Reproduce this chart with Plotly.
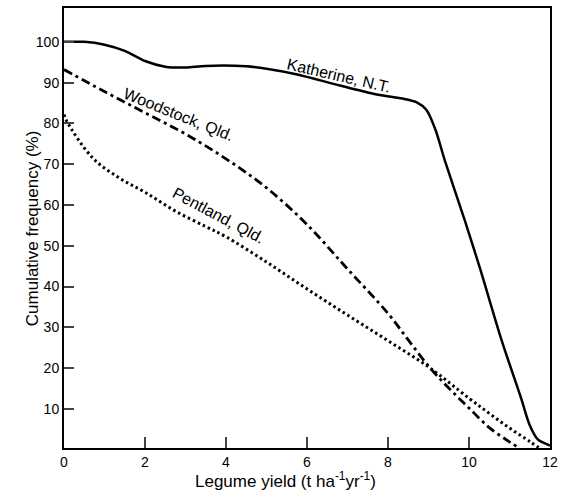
import plotly.graph_objects as go

# Cumulative frequency (%) of legume yield (t/ha/yr) at three sites
katherine_x = [0, 0.5, 1.0, 1.5, 2.0, 2.5, 3.0, 3.5, 4.5, 5.0, 5.76, 6.73, 7.5, 7.95, 8.4, 8.7, 8.95, 9.17, 9.4, 9.9, 10.27, 10.8, 11.29, 11.5, 11.7, 12.0]
katherine_y = [100, 100, 99.3, 97.8, 95.3, 93.9, 93.7, 94.1, 94.0, 93.4, 92, 89.5, 87.6, 86.7, 86, 85.2, 83.3, 78.5, 71, 56.1, 44.5, 27, 12.5, 6, 2.5, 1]

woodstock_x = [0, 1, 2, 3, 4, 5, 6, 7, 8, 8.5, 9, 9.5, 10, 10.5, 11, 11.2]
woodstock_y = [93.2, 87.8, 82.6, 77.4, 71.3, 64.2, 55.2, 44.3, 33.4, 26.9, 20.5, 15.1, 10.2, 5.4, 1.9, 0.6]

pentland_x = [0, 0.07, 0.71, 1.37, 2.02, 2.75, 3.5, 4, 5, 6, 7, 8, 9, 10, 10.5, 11, 11.5, 11.72]
pentland_y = [82.2, 80.5, 71.5, 66.6, 63, 58.5, 54.7, 52.2, 46, 39.4, 33, 26.7, 20.3, 12.6, 8.9, 5.3, 2, 0.5]

x_ticks = [0, 2, 4, 6, 8, 10, 12]
y_ticks = [10, 20, 30, 40, 50, 60, 70, 80, 90, 100]

site_labels = ["Katherine, N.T.", "Woodstock, Qld.", "Pentland, Qld."]
label_x = [6.78, 2.83, 3.82]
label_y = [91.8, 82.1, 57.5]
label_angle = [13, 22, 28]

FONT = "Liberation Sans Narrow, Arial Narrow, Liberation Sans, sans-serif"

fig = go.Figure()
fig.add_trace(go.Scatter(x=katherine_x, y=katherine_y, mode="lines",
                         line=dict(color="black", width=2.5, shape="spline", smoothing=0.8)))
fig.add_trace(go.Scatter(x=woodstock_x, y=woodstock_y, mode="lines",
                         line=dict(color="black", width=2.8, dash="9px,4px,3px,4px", shape="spline", smoothing=1.0)))
fig.add_trace(go.Scatter(x=pentland_x, y=pentland_y, mode="lines",
                         line=dict(color="black", width=3, dash="2.5px,3px", shape="spline", smoothing=1.0)))

for txt, lx, ly, ang in zip(site_labels, label_x, label_y, label_angle):
    fig.add_annotation(x=lx, y=ly, text=txt, showarrow=False, textangle=ang,
                       font=dict(family=FONT, size=16, color="black"))

# axis titles
fig.add_annotation(xref="paper", yref="paper", x=-0.089, y=0.5,
                   text="Cumulative frequency (%)", showarrow=False, textangle=-90,
                   font=dict(family=FONT, size=17, color="black"))
fig.add_annotation(xref="paper", yref="paper", x=0.455, y=-0.102,
                   text="Legume yield (t ha<sup>-1</sup>yr<sup>-1</sup>)", showarrow=False,
                   font=dict(family=FONT, size=17, color="black"))

fig.update_layout(
    width=564, height=503,
    margin=dict(l=64, r=8, t=6, b=55),
    plot_bgcolor="white", paper_bgcolor="white",
    showlegend=False,
    font=dict(family=FONT, size=14, color="black"),
)
fig.update_xaxes(range=[0, 12], tickvals=x_ticks, ticks="inside", ticklen=11, tickwidth=1.5,
                 showgrid=False, zeroline=False, showline=True, linewidth=2, linecolor="black",
                 mirror=True, tickfont=dict(family=FONT, size=14))
fig.update_yaxes(range=[0.4, 108.3], tickvals=y_ticks, ticks="inside", ticklen=10, tickwidth=1.5,
                 showgrid=False, zeroline=False, showline=True, linewidth=2, linecolor="black",
                 mirror=True, tickfont=dict(family=FONT, size=14))

fig.write_html("out.html")
